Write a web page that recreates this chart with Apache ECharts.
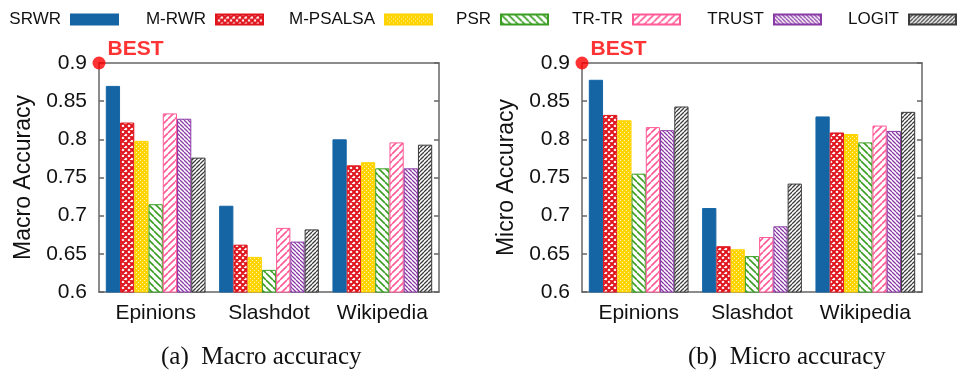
<!DOCTYPE html>
<html>
<head>
<meta charset="utf-8">
<script src="https://cdn.jsdelivr.net/npm/echarts@6/dist/echarts.min.js"></script>
<style>
  html, body { margin: 0; padding: 0; background: #fff; }
  #chart { width: 957px; height: 372px; }
</style>
</head>
<body>
<div id="chart"></div>
<script>
// data
const methods = ["SRWR", "M-RWR", "M-PSALSA", "PSR", "TR-TR", "TRUST", "LOGIT"];
const datasets = ["Epinions", "Slashdot", "Wikipedia"];
const yTicks = [0.6, 0.65, 0.7, 0.75, 0.8, 0.85, 0.9];

// macro accuracy, one value per method (same order as methods)
const macroEpinions = [0.870, 0.822, 0.798, 0.715, 0.834, 0.827, 0.776];
const macroSlashdot = [0.713, 0.662, 0.646, 0.629, 0.684, 0.666, 0.682];
const macroWikipedia = [0.800, 0.766, 0.770, 0.762, 0.796, 0.762, 0.793];

// micro accuracy
const microEpinions = [0.878, 0.832, 0.825, 0.755, 0.816, 0.812, 0.843];
const microSlashdot = [0.710, 0.660, 0.656, 0.647, 0.672, 0.686, 0.742];
const microWikipedia = [0.830, 0.809, 0.807, 0.796, 0.818, 0.811, 0.836];

const bestValue = 0.9;

const FONT = "Liberation Sans, Arial, Helvetica, sans-serif";
const SERIF = "Liberation Serif, Times New Roman, serif";

// --- fill patterns ---
function makePattern(size, draw) {
  const c = document.createElement("canvas");
  c.width = size;
  c.height = size;
  const ctx = c.getContext("2d");
  draw(ctx, size);
  return { image: c, repeat: "repeat" };
}
function stripes(color, size, width, dir) {
  return makePattern(size, (ctx, s) => {
    ctx.fillStyle = "#fff";
    ctx.fillRect(0, 0, s, s);
    ctx.strokeStyle = color;
    ctx.lineWidth = width;
    ctx.beginPath();
    for (let k = -1; k <= 1; k++) {
      if (dir === "/") {
        ctx.moveTo(k * s, s);
        ctx.lineTo(k * s + s, 0);
      } else {
        ctx.moveTo(k * s, 0);
        ctx.lineTo(k * s + s, s);
      }
    }
    ctx.stroke();
  });
}
const crossRed = makePattern(6, (ctx, s) => {
  ctx.fillStyle = "#fff";
  ctx.fillRect(0, 0, s, s);
  ctx.strokeStyle = "#e0141c";
  ctx.lineWidth = 2;
  ctx.beginPath();
  for (let k = -1; k <= 1; k++) {
    ctx.moveTo(k * s, 0); ctx.lineTo(k * s + s, s);
    ctx.moveTo(k * s, s); ctx.lineTo(k * s + s, 0);
  }
  ctx.stroke();
});
const dotsYellow = makePattern(4, (ctx, s) => {
  ctx.fillStyle = "#ffd400";
  ctx.fillRect(0, 0, s, s);
  ctx.fillStyle = "#fff3b0";
  ctx.fillRect(0, 0, 1, 1);
  ctx.fillRect(2, 2, 1, 1);
});

const styles = [
  { fill: "#1565a5", border: "#1565a5" },
  { fill: crossRed, border: "#e0141c" },
  { fill: dotsYellow, border: "#ffd400" },
  { fill: stripes("#3a9e22", 7, 1.6, "\\"), border: "#3a9e22" },
  { fill: stripes("#ff5a96", 7, 1.6, "/"), border: "#ff5a96" },
  { fill: stripes("#8a3aa6", 4, 1.3, "\\"), border: "#8a3aa6" },
  { fill: stripes("#3c3c3c", 4, 1.3, "/"), border: "#3c3c3c" },
];

// --- axes / grids ---
const grids = [
  { left: 99, top: 63, width: 340, height: 229 },
  { left: 582, top: 63, width: 340, height: 229 },
];
const lineStyle = { color: "#666", width: 1.5 };

const xAxes = [];
const yAxes = [];
const yNames = ["Macro Accuracy", "Micro Accuracy"];
grids.forEach((g, gi) => {
  xAxes.push({
    gridIndex: gi, type: "category", data: datasets, position: "bottom",
    axisLine: { lineStyle },
    axisTick: { inside: true, alignWithLabel: true, length: 5, lineStyle },
    axisLabel: { interval: 0, color: "#111", fontSize: 21, fontFamily: FONT, margin: 11 },
  });
  xAxes.push({
    gridIndex: gi, type: "category", data: datasets, position: "top",
    axisLine: { lineStyle },
    axisTick: { inside: true, alignWithLabel: true, length: 5, lineStyle },
    axisLabel: { show: false },
  });
  xAxes.push({ gridIndex: gi, type: "value", min: 0, max: 1, show: false });
  yAxes.push({
    gridIndex: gi, type: "value", min: yTicks[0], max: yTicks[yTicks.length - 1],
    interval: 0.05, position: "left",
    name: yNames[gi], nameLocation: "middle", nameGap: 64,
    nameTextStyle: { color: "#111", fontSize: 23, fontFamily: FONT },
    axisLine: { show: true, lineStyle },
    axisTick: { show: true, inside: true, length: 5, lineStyle },
    axisLabel: { color: "#111", fontSize: 21, fontFamily: FONT, margin: 12 },
    splitLine: { show: false },
  });
  yAxes.push({
    gridIndex: gi, type: "value", min: yTicks[0], max: yTicks[yTicks.length - 1],
    interval: 0.05, position: "right",
    axisLine: { show: true, lineStyle },
    axisTick: { show: true, inside: true, length: 5, lineStyle },
    axisLabel: { show: false },
    splitLine: { show: false },
  });
});

// --- series ---
const panels = [
  [macroEpinions, macroSlashdot, macroWikipedia],
  [microEpinions, microSlashdot, microWikipedia],
];
const series = [];
panels.forEach((cols, gi) => {
  methods.forEach((m, mi) => {
    series.push({
      name: m, type: "bar",
      xAxisIndex: gi * 3, yAxisIndex: gi * 2,
      barGap: "0%", barCategoryGap: "12%",
      itemStyle: { color: styles[mi].fill, borderColor: styles[mi].border, borderWidth: 1 },
      data: cols.map(c => c[mi]),
    });
  });
  series.push({
    type: "scatter", xAxisIndex: gi * 3 + 2, yAxisIndex: gi * 2,
    symbolSize: 13, clip: false, z: 10,
    itemStyle: { color: "#f00" },
    label: {
      show: true, formatter: "BEST", position: [15, -18],
      color: "#f00", fontWeight: "bold", fontSize: 21, fontFamily: FONT,
    },
    data: [[0, bestValue]],
  });
});

// one legend per entry: text then swatch, gnuplot style
const legendRight = [838, 693, 524, 408, 276, 135, 0];
const legends = methods.map((m, i) => ({
  data: [m], right: legendRight[i], top: 11, padding: 0,
  align: "right", itemWidth: 47, itemHeight: 10, selectedMode: false,
  icon: "rect",
  textStyle: { color: "#111", fontSize: 17, fontFamily: FONT, padding: [0, 5, 0, 0] },
}));

const option = {
  animation: false,
  backgroundColor: "#fff",
  title: [
    { text: "(a)  Macro accuracy", left: 156, top: 340,
      textStyle: { color: "#111", fontSize: 25, fontWeight: "normal", fontFamily: SERIF } },
    { text: "(b)  Micro accuracy", left: 683, top: 340,
      textStyle: { color: "#111", fontSize: 25, fontWeight: "normal", fontFamily: SERIF } },
  ],
  legend: legends,
  grid: grids,
  xAxis: xAxes,
  yAxis: yAxes,
  series: series,
};

const chart = echarts.init(document.getElementById("chart"), null, { renderer: "canvas" });
chart.setOption(option);
</script>
</body>
</html>
